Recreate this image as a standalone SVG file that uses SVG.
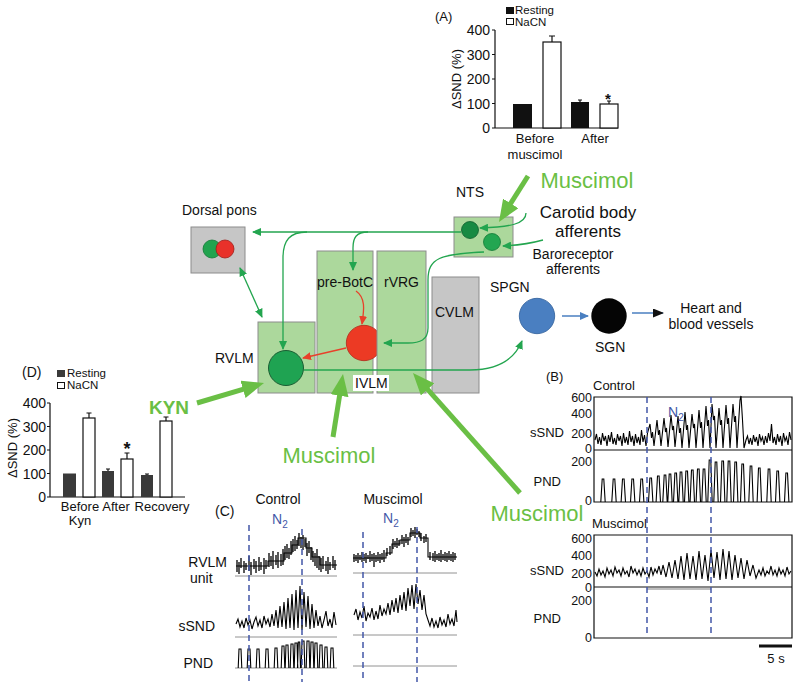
<svg xmlns="http://www.w3.org/2000/svg" width="800" height="688" viewBox="0 0 800 688">
<style>
text{font-family:"Liberation Sans",Arial,sans-serif;fill:#111}
.t12{font-size:11.5px}.t13{font-size:13px}.t14{font-size:14px}
.g{fill:#6abf45}
.box{fill:#acd89c;stroke:#8c8c8c;stroke-width:1}
.gray{fill:#c6c6c6;stroke:#8c8c8c;stroke-width:1}
.thin{fill:none;stroke:#23a54f;stroke-width:1.3}
.red{fill:none;stroke:#e8402a;stroke-width:1.3}
.thick{fill:none;stroke:#6abf45;stroke-width:5}
.ax{fill:none;stroke:#111;stroke-width:1.2}
.tr{fill:none;stroke:#000;stroke-width:1.1}
.tk{fill:none;stroke:#000;stroke-width:1.3}
.base{fill:none;stroke:#777;stroke-width:0.8}
.dash{fill:none;stroke:#4357a8;stroke-width:1.5;stroke-dasharray:6 4}
.n2{fill:#4357a8;font-size:14px}
</style>
<defs>
<marker id="ga" markerUnits="userSpaceOnUse" markerWidth="9" markerHeight="8" refX="8" refY="4" orient="auto-start-reverse"><path d="M0,0L9,4L0,8z" fill="#23a54f"/></marker>
<marker id="ra" markerUnits="userSpaceOnUse" markerWidth="9" markerHeight="8" refX="8" refY="4" orient="auto"><path d="M0,0L9,4L0,8z" fill="#e8402a"/></marker>
<marker id="ba" markerUnits="userSpaceOnUse" markerWidth="9" markerHeight="8" refX="8" refY="4" orient="auto"><path d="M0,0L9,4L0,8z" fill="#4a7fc1"/></marker>
<marker id="ka" markerUnits="userSpaceOnUse" markerWidth="11" markerHeight="9" refX="10" refY="4.5" orient="auto"><path d="M0,0L11,4.5L0,9z" fill="#111"/></marker>
<marker id="big" markerUnits="userSpaceOnUse" markerWidth="22" markerHeight="18" refX="6" refY="9" orient="auto"><path d="M0,0L22,9L0,18z" fill="#6abf45"/></marker>
</defs>

<!-- Panel A -->
<g id="panelA">
<text class="t13" x="435" y="21">(A)</text>
<rect x="506" y="7" width="8" height="7" fill="#111"/>
<rect x="506.5" y="18.5" width="7" height="6" fill="#fff" stroke="#111"/>
<text class="t12" x="515" y="14">Resting</text>
<text class="t12" x="515" y="26">NaCN</text>
<path class="ax" d="M495,30V128H618M492,30H495M492,54.5H495M492,79H495M492,103.5H495M492,128H495"/>
<g class="t14" text-anchor="end">
<text x="490" y="35">400</text><text x="490" y="59.5">300</text><text x="490" y="84">200</text><text x="490" y="108.5">100</text><text x="490" y="133">0</text>
</g>
<text class="t13" transform="translate(461,79) rotate(-90)" text-anchor="middle">ΔSND (%)</text>
<rect x="513" y="104" width="19" height="24" fill="#111"/>
<rect x="543" y="42" width="18" height="86" fill="#fff" stroke="#111" stroke-width="1.2"/>
<path class="ax" d="M552,42V36M549,36H555"/>
<rect x="571" y="102" width="18" height="26" fill="#111"/>
<path class="ax" d="M580,102V100M578,100H582"/>
<rect x="600" y="104" width="18" height="24" fill="#fff" stroke="#111" stroke-width="1.2"/>
<path class="ax" d="M609,104V101M607,101H611"/>
<text x="608" y="104" font-size="15" font-weight="bold" text-anchor="middle">*</text>
<g class="t13" text-anchor="middle">
<text x="535" y="143">Before</text><text x="535" y="159">muscimol</text><text x="595" y="143">After</text>
</g>
</g>

<!-- Center diagram nodes -->
<g id="dorsal-pons">
<text class="t14" x="182" y="215">Dorsal pons</text>
<rect class="gray" x="191" y="227" width="54" height="46" fill="#cfcfcf"/>
<circle cx="212" cy="249" r="9" fill="#22a34f" stroke="#137a36" stroke-width="0.8"/>
<circle cx="225" cy="249" r="9" fill="#e8312a" stroke="#a01d18" stroke-width="0.8"/>
</g>
<g id="nts">
<text class="t14" x="456" y="197">NTS</text>
<rect class="box" x="454" y="217" width="59" height="40"/>
<circle cx="470" cy="230" r="8.5" fill="#178a42" stroke="#0f5e2d" stroke-width="0.8"/>
<circle cx="492" cy="242" r="8.5" fill="#23a651" stroke="#137a36" stroke-width="0.8"/>
</g>
<g id="rvlm">
<rect class="box" x="258" y="322" width="57" height="71"/>
<text class="t14" x="215" y="363">RVLM</text>
<circle cx="286" cy="368" r="17.5" fill="#1fa352" stroke="#1b5e33" stroke-width="1"/>
</g>
<g id="pre-botc">
<rect class="box" x="317" y="251" width="56" height="142"/>
<text class="t14" x="317" y="287">pre-BotC</text>
<circle cx="364" cy="343" r="17.7" fill="#ec3a24" stroke="#b02a1a" stroke-width="0.8"/>
</g>
<g id="rvrg">
<rect class="box" x="377" y="251" width="49" height="142"/>
<text class="t14" x="384" y="287">rVRG</text>
</g>
<g id="cvlm">
<rect class="gray" x="432" y="277" width="47" height="116"/>
<text class="t14" x="435" y="317">CVLM</text>
</g>
<g id="ivlm">
<rect x="353" y="375" width="36" height="16" fill="#fff"/>
<text class="t14" x="355" y="388">IVLM</text>
</g>
<g id="spgn">
<text class="t14" x="490" y="292">SPGN</text>
<circle cx="537" cy="316" r="17.7" fill="#4a7fc1" stroke="#2f5e99" stroke-width="0.8"/>
</g>
<g id="sgn">
<circle cx="609" cy="316" r="17.7" fill="#050505"/>
<text class="t14" x="595" y="352">SGN</text>
</g>
<g id="heart">
<text class="t14" x="711" y="313" text-anchor="middle">Heart and</text>
<text class="t14" x="711" y="329" text-anchor="middle">blood vessels</text>
</g>
<g id="carotid">
<text x="588" y="218" font-size="17" text-anchor="middle">Carotid body</text>
<text x="588" y="237" font-size="17" text-anchor="middle">afferents</text>
</g>
<g id="baroreceptor">
<text class="t14" x="573" y="259" text-anchor="middle">Baroreceptor</text>
<text class="t14" x="573" y="274" text-anchor="middle">afferents</text>
</g>
<g id="drugs">
<text class="g" x="587" y="188" font-size="22" text-anchor="middle">Muscimol</text>
<text class="g" x="169" y="414" font-size="19" font-weight="bold" text-anchor="middle">KYN</text>
<text class="g" x="329" y="463" font-size="22" text-anchor="middle">Muscimol</text>
<text class="g" x="537" y="521" font-size="22" text-anchor="middle">Muscimol</text>
</g>

<!-- Connectors -->
<g id="connectors">
<path class="thin" d="M461,232H253" marker-end="url(#ga)"/>
<path class="thin" d="M307,232C290,232 283,240 283,258V349" marker-end="url(#ga)"/>
<path class="thin" d="M368,232C356,232 353,238 353,248V270" marker-end="url(#ga)"/>
<path class="thin" d="M484,252C440,254 428,258 428,280V328C428,340 420,343 408,343H384" marker-end="url(#ga)"/>
<path class="thin" d="M526,213C526,224 510,227 480,228" marker-end="url(#ga)"/>
<path class="thin" d="M543,240Q525,245 503,246" marker-end="url(#ga)"/>
<path class="thin" d="M240,268L262,317" stroke-width="2" marker-start="url(#ga)" marker-end="url(#ga)"/>
<path class="thin" d="M304,370H470C500,370 515,358 522,341" marker-end="url(#ga)"/>
<path class="red" d="M356,291C366,298 364,310 362,324" marker-end="url(#ra)"/>
<path class="red" d="M346,348L303,358" marker-end="url(#ra)"/>
<path d="M562,316H588" fill="none" stroke="#4a7fc1" stroke-width="1.5" marker-end="url(#ba)"/>
<path d="M632,313H663" fill="none" stroke="#4a7fc1" stroke-width="1.5" marker-end="url(#ka)"/>
<path class="thick" d="M528,176L507.5,208.5" marker-end="url(#big)"/>
<path class="thick" d="M197,403L248.7,387.6" marker-end="url(#big)"/>
<path class="thick" d="M333,437L340.5,389.8" marker-end="url(#big)"/>
<path class="thick" d="M520,493L423.6,384.9" marker-end="url(#big)"/>
</g>

<!-- Panel D -->
<g id="panelD">
<text class="t14" x="22" y="377">(D)</text>
<rect x="57" y="370" width="8" height="7" fill="#3a3a3a"/>
<rect x="57.5" y="382.5" width="7" height="6" fill="#fff" stroke="#111"/>
<text class="t12" x="67" y="377">Resting</text>
<text class="t12" x="67" y="389">NaCN</text>
<path class="ax" d="M50,403V497H185M47,403H50M47,426.5H50M47,450H50M47,473.5H50M47,497H50"/>
<g class="t14" text-anchor="end">
<text x="46" y="408">400</text><text x="46" y="431.5">300</text><text x="46" y="455">200</text><text x="46" y="478.5">100</text><text x="46" y="502">0</text>
</g>
<text class="t13" transform="translate(17,448) rotate(-90)" text-anchor="middle">ΔSND (%)</text>
<rect x="63" y="473.5" width="13" height="23.5" fill="#3a3a3a"/>
<rect x="83" y="418" width="12" height="79" fill="#fff" stroke="#111" stroke-width="1.2"/>
<path class="ax" d="M89,418V413M86.5,413H91.5"/>
<rect x="102" y="471" width="12" height="26" fill="#3a3a3a"/>
<path class="ax" d="M108,471V469M106,469H110"/>
<rect x="121" y="459" width="12" height="38" fill="#fff" stroke="#111" stroke-width="1.2"/>
<path class="ax" d="M127,459V453M124.5,453H129.5"/>
<text x="127" y="455" font-size="18" font-weight="bold" text-anchor="middle">*</text>
<rect x="141" y="475" width="12" height="22" fill="#3a3a3a"/>
<path class="ax" d="M147,475V474M145,474H149"/>
<rect x="160" y="421" width="12" height="76" fill="#fff" stroke="#111" stroke-width="1.2"/>
<path class="ax" d="M166,421V417M163.5,417H168.5"/>
<g class="t13" text-anchor="middle">
<text x="80" y="511">Before</text><text x="80" y="525">Kyn</text><text x="116" y="511">After</text><text x="162" y="511">Recovery</text>
</g>
</g>

<!-- Panel B -->
<g id="panelB">
<text class="t13" x="546" y="381">(B)</text>
<text class="t13" x="593" y="390">Control</text>
<text class="t13" x="592" y="528">Muscimol</text>
<path class="ax" d="M594,397H792V502H594ZM594,450H792"/>
<path class="ax" d="M594,535H792V638H594ZM594,587H792"/>
<path d="M647,589H711" stroke="#aaa" stroke-width="1.5"/>
<g font-size="12.5" text-anchor="end">
<text x="592" y="402">600</text><text x="592" y="418">400</text><text x="592" y="438">200</text><text x="592" y="453">0</text><text x="592" y="466">200</text><text x="592" y="505">0</text>
<text x="592" y="543">600</text><text x="592" y="560">400</text><text x="592" y="578">200</text><text x="592" y="592">0</text><text x="592" y="605">200</text><text x="592" y="642">0</text>
</g>
<g class="t13" text-anchor="end">
<text x="564" y="437">sSND</text><text x="561" y="486">PND</text>
<text x="564" y="575">sSND</text><text x="561" y="623">PND</text>
</g>
<path class="tr" d="M595,440L596.5,434L598,444L599.5,437L601,445L602.5,433L604,441L605.5,436L607,446L608.5,435L610,442L611.5,432L613,444L614.5,438L616,445L617.5,434L619,441L620.5,436L622,446L623.5,433L625,443L626.5,437L628,445L629.5,431L631,442L632.5,436L634,446L635.5,434L637,443L638.5,437L640,445L641.5,430L643,442L644.5,435L646,446L647.5,433L650,424L651.5,438L652.5,432L654,446L657,420L658.5,435L659.5,430L661,446L664,418L665.5,432L666.5,428L668,447L671,415L672.5,430L673.5,426L675,447L678,416L679.5,433L680.5,428L682,448L685,412L686.5,430L687.5,425L689,448L692,414L693.5,428L694.5,424L696,448L699,410L700.5,428L701.5,422L703,448L706,406L707.5,426L708.5,420L710,448L712,404L713.5,420L714.5,416L716,448L719,408L720.5,425L721.5,420L723,448L726,405L727.5,424L728.5,418L730,448L733,404L734.5,422L735.5,416L737,448L740,400L741,396L742.5,420L744,448L746,440L747.5,436L749,444L750.5,438L752,445L753.5,435L755,442L756.5,437L758,446L759.5,434L761,441L762.5,437L764,445L765.5,436L767,443L768.5,433L770,441L771.5,424L773,443L774.5,437L776,445L777.5,434L779,442L780.5,436L782,446L783.5,433L785,441L786.5,437L788,445L789.5,432L791,440"/>
<path class="tr" d="M600.8,502L602.2,479L603.8,479L605.2,502M611.8,502L613.2,479L614.8,479L616.2,502M621.1,502L622.5,479L624.1,479L625.5,502M630.5,502L631.9,479L633.5,479L634.9,502M639.5,502L640.9,479L642.5,479L643.9,502M648.5,502L649.9,478L651.5,478L652.9,502M656.1,502L657.5,476L659.1,476L660.5,502M662.8,502L664.2,475L665.8,475L667.2,502M667.8,502L669.2,474L670.8,474L672.2,502M673.5,502L674.9,473L676.5,473L677.9,502M678.8,502L680.2,472L681.8,472L683.2,502M684.5,502L685.9,471L687.5,471L688.9,502M690.1,502L691.5,470L693.1,470L694.5,502M696.1,502L697.5,469L699.1,469L700.5,502M701.8,502L703.2,469L704.8,469L706.2,502M707.8,502L709.2,460L710.8,460L712.2,502M713.8,502L715.2,462L716.8,462L718.2,502M720.5,502L721.9,461L723.5,461L724.9,502M726.8,502L728.2,461L729.8,461L731.2,502M733.5,502L734.9,462L736.5,462L737.9,502M740.5,502L741.9,464L743.5,464L744.9,502M748.8,502L750.2,466L751.8,466L753.2,502M757.1,502L758.5,468L760.1,468L761.5,502M766.8,502L768.2,469L769.8,469L771.2,502M775.5,502L776.9,471L778.5,471L779.9,502M784.5,502L785.9,473L787.5,473L788.9,502"/>
<path class="tr" d="M595,572L597,576L599,569L601,575L603,571L605,577L607,568L609,574L611,570L613,576L615,567L617,573L619,570L621,576L623,568L625,574L627,571L629,577L631,566L633,573L635,569L637,575L639,570L641,576L643,568L645,574L647,571L649,577L651,567L653,575L655,569L657,573L659,566L661,575L663,565L666,577L669,562L672,578L675,560L678,579L681,556L684,580L687,553L690,579L693,556L696,580L699,551L702,579L705,555L708,581L711,550L714,578L717,552L720,580L723,549L726,579L729,551L732,580L735,555L738,578L741,558L744,579L747,560L750,576L753,565L756,578L759,570L761,575L763,568L765,576L767,571L769,574L771,566L773,575L775,570L777,576L779,568L781,574L783,570L785,576L787,567L789,574L791,571"/>
<path class="dash" d="M647,397V633M711,397V633"/>
<text class="n2" x="668" y="417">N<tspan font-size="10" dy="4">2</tspan></text>
<path d="M759,646H792" stroke="#111" stroke-width="3"/>
<text class="t13" x="776" y="663" text-anchor="middle">5 s</text>
</g>

<!-- Panel C -->
<g id="panelC">
<text class="t14" x="215" y="516">(C)</text>
<text class="t14" x="278" y="504" text-anchor="middle">Control</text>
<text class="t14" x="393" y="504" text-anchor="middle">Muscimol</text>
<text class="n2" x="272" y="524">N<tspan font-size="10" dy="4">2</tspan></text>
<text class="n2" x="383" y="523">N<tspan font-size="10" dy="4">2</tspan></text>
<g class="t14" text-anchor="end">
<text x="227" y="567">RVLM</text><text x="215" y="631">sSND</text><text x="213" y="668">PND</text>
</g>
<text class="t14" x="190" y="583">unit</text>
<path class="base" d="M235,576H337M353,573H457M235,637H337M353,635H457M235,668H337M353,666H457"/>
<path class="tr" d="M236,566H268V561H284V553H292V545H298V538H306V548H312V557H320V565H337"/>
<path class="tk" d="M237,560V572M239,562V574M241,558V568M244,561V573M246,563V570M249,556V571M251,562V575M254,559V569M256,561V573M259,557V571M261,562V570M264,558V574M266,560V569M269,553V567M271,556V566M273,551V569M276,555V565M278,552V568M281,554V566M283,549V565M285,546V560M287,544V558M289,548V559M291,541V555M293,539V552M295,536V551M297,540V549M299,533V546M301,537V548M303,535V550M305,539V547M307,543V556M309,541V553M311,547V560M313,551V562M315,553V566M317,549V568M319,556V570M321,558V572M323,556V569M326,561V571M328,557V574M330,562V570M333,556V568M335,560V570"/>
<path class="tr" d="M353,558H386V553H392V544H400V540H410V533H420V538H428V557H457"/>
<path class="tk" d="M354,554V562M356,555V561M358,553V563M360,555V560M362,552V562M364,554V561M366,553V563M368,555V559M370,551V562M372,554V561M374,553V567M376,555V562M378,552V561M380,554V563M382,553V560M384,550V562M387,548V556M390,546V555M393,539V549M395,541V547M397,538V548M399,540V546M402,535V544M404,537V547M406,534V543M408,537V545M411,528V537M413,530V536M415,527V538M417,529V535M419,531V537M421,533V541M424,536V543M426,534V542M430,552V560M433,553V561M435,551V562M437,554V560M439,553V561M441,550V562M443,554V560M445,552V561M447,553V562M449,551V560M451,554V561M453,552V562M455,553V560"/>
<path class="tr" d="M236,624L238,619L240,627L242,621L244,628L246,618L248,625L250,620L252,629L254,622L256,617L258,626L260,620L262,628L264,616L266,624L268,619L270,627L272,614L274,626L276,610L278,628L280,606L282,627L284,602L286,629L288,598L290,628L292,594L294,630L296,590L298,628L300,586L302,630L304,592L306,627L308,596L310,629L312,604L314,628L316,610L318,626L320,616L322,628L324,620L326,611L328,626L330,619L332,628L334,612L336,625"/>
<path class="tr" d="M354,615L356,609L358,620L360,612L362,618L364,606L366,621L368,613L370,617L372,608L374,620L376,611L378,619L380,605L382,616L384,609L386,614L388,603L390,615L392,600L394,612L396,598L398,613L400,595L402,610L404,592L406,611L408,588L410,606L412,585L414,609L416,584L418,604L420,590L422,610L424,595L426,614L428,620L430,626L432,618L434,627L436,621L438,628L440,617L442,625L444,620L446,627L448,614L450,624L452,619L454,626L456,610L457,622"/>
<path class="tr" d="M238.2,668L239,649L241,649L241.8,668M247.2,668L248,649L250,649L250.8,668M256.2,668L257,649L259,649L259.8,668M265.2,668L266,649L268,649L268.8,668M274.2,668L275,648L277,648L277.8,668M281.2,668L282,646L284,646L284.8,668M285.2,668L286,645L288,645L288.8,668M290.2,668L291,644L293,644L293.8,668M294.2,668L295,643L297,643L297.8,668M297.5,668L298.3,642L299.7,642L300.5,668M301.2,668L302,641L304,641L304.8,668M306.2,668L307,641L309,641L309.8,668M310.2,668L311,642L313,642L313.8,668M314.2,668L315,643L317,643L317.8,668M319.2,668L320,645L322,645L322.8,668M324.2,668L325,647L327,647L327.8,668M330.2,668L331,648L333,648L333.8,668"/>
<path class="dash" d="M249,525V682M302,529V682M363,532V682M417,527V682"/>
</g>
</svg>
